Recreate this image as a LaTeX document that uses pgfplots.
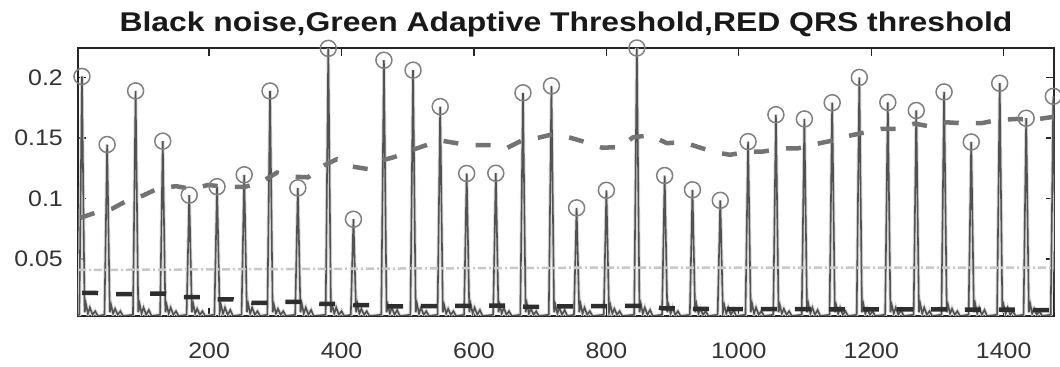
\documentclass[border=0pt]{standalone}
\usepackage{fontspec}
\setmainfont{Liberation Sans}
\usepackage{pgfplots}
\pgfplotsset{compat=1.18}
\usepackage{pgfplotstable}

% ECG-like signal
\pgfplotstableread{
x y
2 0.004
4 0.004
8 0.2008
12 0.006
14 0.013
17 0.005
20 0.010
24 0.004
28 0.007
32 0.003
42 0.004
46 0.1446
50 0.006
52 0.012
55 0.005
58 0.009
62 0.004
66 0.007
70 0.003
85 0.004
89 0.1889
93 0.006
95 0.013
98 0.005
101 0.010
105 0.004
109 0.008
113 0.003
126 0.004
130 0.1474
134 0.006
136 0.012
139 0.005
142 0.010
146 0.004
150 0.007
154 0.003
166 0.004
170 0.1028
174 0.006
176 0.013
179 0.005
182 0.009
186 0.004
190 0.007
194 0.003
208 0.004
212 0.1098
216 0.006
218 0.012
221 0.005
224 0.010
228 0.004
232 0.008
236 0.003
249 0.004
253 0.1196
257 0.006
259 0.013
262 0.005
265 0.010
269 0.004
273 0.007
277 0.003
288 0.004
292 0.1888
296 0.006
298 0.012
301 0.005
304 0.009
308 0.004
312 0.007
316 0.003
330 0.004
334 0.1088
338 0.006
340 0.013
343 0.005
346 0.010
350 0.004
354 0.008
358 0.003
376 0.004
380 0.2240
384 0.006
386 0.012
389 0.005
392 0.010
396 0.004
400 0.007
404 0.003
414 0.004
418 0.0829
422 0.006
424 0.013
427 0.005
430 0.009
434 0.004
438 0.007
442 0.003
460 0.004
464 0.2142
468 0.006
470 0.012
473 0.005
476 0.010
480 0.004
484 0.008
488 0.003
504 0.004
508 0.2060
512 0.006
514 0.013
517 0.005
520 0.010
524 0.004
528 0.007
532 0.003
545 0.004
549 0.1759
553 0.006
555 0.012
558 0.005
561 0.009
565 0.004
569 0.007
573 0.003
585 0.004
589 0.1207
593 0.006
595 0.013
598 0.005
601 0.010
605 0.004
609 0.008
613 0.003
629 0.004
633 0.1209
637 0.006
639 0.012
642 0.005
645 0.010
649 0.004
653 0.007
657 0.003
670 0.004
674 0.1873
678 0.006
680 0.013
683 0.005
686 0.009
690 0.004
694 0.007
698 0.003
713 0.004
717 0.1930
721 0.006
723 0.012
726 0.005
729 0.010
733 0.004
737 0.008
741 0.003
751 0.004
755 0.0923
759 0.006
761 0.013
764 0.005
767 0.010
771 0.004
775 0.007
779 0.003
796 0.004
800 0.1068
804 0.006
806 0.012
809 0.005
812 0.009
816 0.004
820 0.007
824 0.003
842 0.004
846 0.2243
850 0.006
852 0.013
855 0.005
858 0.010
862 0.004
866 0.008
870 0.003
884 0.004
888 0.1190
892 0.006
894 0.012
897 0.005
900 0.010
904 0.004
908 0.007
912 0.003
926 0.004
930 0.1072
934 0.006
936 0.013
939 0.005
942 0.009
946 0.004
950 0.007
954 0.003
968 0.004
972 0.0985
976 0.006
978 0.012
981 0.005
984 0.010
988 0.004
992 0.008
996 0.003
1010 0.004
1014 0.1470
1018 0.006
1020 0.013
1023 0.005
1026 0.010
1030 0.004
1034 0.007
1038 0.003
1052 0.004
1056 0.1692
1060 0.006
1062 0.012
1065 0.005
1068 0.009
1072 0.004
1076 0.007
1080 0.003
1095 0.004
1099 0.1657
1103 0.006
1105 0.013
1108 0.005
1111 0.010
1115 0.004
1119 0.008
1123 0.003
1137 0.004
1141 0.1791
1145 0.006
1147 0.012
1150 0.005
1153 0.010
1157 0.004
1161 0.007
1165 0.003
1178 0.004
1182 0.2000
1186 0.006
1188 0.013
1191 0.005
1194 0.009
1198 0.004
1202 0.007
1206 0.003
1221 0.004
1225 0.1794
1229 0.006
1231 0.012
1234 0.005
1237 0.010
1241 0.004
1245 0.008
1249 0.003
1264 0.004
1268 0.1727
1272 0.006
1274 0.013
1277 0.005
1280 0.010
1284 0.004
1288 0.007
1292 0.003
1306 0.004
1310 0.1880
1314 0.006
1316 0.012
1319 0.005
1322 0.009
1326 0.004
1330 0.007
1334 0.003
1347 0.004
1351 0.1467
1355 0.006
1357 0.013
1360 0.005
1363 0.010
1367 0.004
1371 0.008
1375 0.003
1390 0.004
1394 0.1952
1398 0.006
1400 0.012
1403 0.005
1406 0.010
1410 0.004
1414 0.007
1418 0.003
1430 0.004
1434 0.1663
1438 0.006
1440 0.013
1443 0.005
1446 0.009
1450 0.004
1454 0.007
1458 0.003
1471 0.004
1475 0.1844
1479 0.006
}\sig

% detected R peaks
\pgfplotstableread{
x y
8 0.2008
46 0.1446
89 0.1889
130 0.1474
170 0.1028
212 0.1098
253 0.1196
292 0.1888
334 0.1088
380 0.2240
418 0.0829
464 0.2142
508 0.2060
549 0.1759
589 0.1207
633 0.1209
674 0.1873
717 0.1930
755 0.0923
800 0.1068
846 0.2243
888 0.1190
930 0.1072
972 0.0985
1014 0.1470
1056 0.1692
1099 0.1657
1141 0.1791
1182 0.2000
1225 0.1794
1268 0.1727
1310 0.1880
1351 0.1467
1394 0.1952
1434 0.1663
1475 0.1844
}\peaks

% QRS threshold
\pgfplotstableread{
x y
5.3 0.0840
28 0.0882
53.6 0.0916
76.2 0.0983
100.4 0.1025
123 0.1084
150.2 0.1102
174.3 0.1078
198.5 0.1112
224 0.1096
254.3 0.1097
276.9 0.1131
302.6 0.1214
322.2 0.1182
349.4 0.1175
367.5 0.1258
393.1 0.1325
412.8 0.1267
440 0.1243
458 0.1310
480.6 0.1344
503.4 0.1395
526 0.1437
548.7 0.1480
575.8 0.1455
598.5 0.1440
627.2 0.1440
649.8 0.1417
674 0.1484
696.6 0.1501
722.3 0.1535
744.9 0.1503
770.6 0.1462
793.2 0.1421
820.4 0.1422
840 0.1505
865.7 0.1523
891.3 0.1457
915.5 0.1466
938.1 0.1426
962.3 0.1385
986.4 0.1361
1013.6 0.1387
1036.2 0.1388
1064.9 0.1413
1089 0.1414
1114.7 0.1448
1137.4 0.1474
1164.5 0.1516
1187.2 0.1542
1215.8 0.1576
1238.5 0.1576
1265.7 0.1619
1288.3 0.1595
1314 0.1629
1341.1 0.1621
1366.8 0.1622
1389.4 0.1648
1419.6 0.1657
1443.8 0.1650
1476 0.1675
}\qrs

% noise threshold
\pgfplotstableread{
x y
8.3 0.0221
27.9 0.0221
55 0.0210
80.8 0.0210
108 0.0214
133.6 0.0214
160.8 0.0185
186.4 0.0185
212 0.0168
236.2 0.0168
265 0.0139
287.5 0.0139
314.7 0.0146
340.4 0.0146
367.5 0.0130
393 0.0130
420.4 0.0119
444.5 0.0119
470 0.0110
497.4 0.0110
521.5 0.0111
548.7 0.0111
575.8 0.0113
604.5 0.0113
627.2 0.0115
651.3 0.0115
677 0.0106
702.6 0.0106
726.8 0.0110
755.5 0.0110
782.6 0.0112
808.3 0.0112
834 0.0114
861.1 0.0114
885.3 0.0093
912.5 0.0093
936.6 0.0088
963.8 0.0088
983.4 0.0086
1012 0.0086
1039 0.0086
1066 0.0086
1087.5 0.0086
1114.7 0.0086
1145 0.0085
1170.6 0.0085
1194.7 0.0085
1223.4 0.0085
1246 0.0084
1273.2 0.0084
1295.8 0.0084
1323 0.0084
1345.7 0.0083
1371.3 0.0083
1397 0.0082
1424 0.0082
1450 0.0078
1476 0.0078
}\noise

% adaptive threshold
\pgfplotstableread{
x y
2 0.0410
400 0.0420
800 0.0430
1476 0.0430
}\adapt

\newcommand\tl[1]{\scalebox{1}[0.9]{#1}}

\begin{document}
\begin{tikzpicture}
\path[use as bounding box] (-78bp,-51bp) rectangle (982bp,316bp);
\begin{axis}[
  at={(0,0)}, anchor=south west,
  scale only axis, width=976bp, height=268bp,
  xmin=2, xmax=1476, ymin=0.003, ymax=0.2243,
  xtick={200,400,600,800,1000,1200,1400},
  xticklabels={\tl{200},\tl{400},\tl{600},\tl{800},\tl{1000},\tl{1200},\tl{1400}},
  ytick={0.05,0.1,0.15,0.2},
  yticklabels={\tl{0.05},\tl{0.1},\tl{0.15},\tl{0.2}},
  tick align=inside, major tick length=8bp,
  axis line style={black!85, line width=1.3bp},
  every tick/.style={black!85, line width=1.3bp},
  ticklabel style={font=\fontsize{25}{27}\selectfont, text=black!80, inner sep=0pt},
  xticklabel style={anchor=north, yshift=-27bp},
  yticklabel style={anchor=east, xshift=-15bp},
  title={\scalebox{1}[0.85]{\bfseries Black noise,Green Adaptive Threshold,RED QRS threshold}},
  title style={font=\fontsize{32}{34}\selectfont, at={(0.5,1)}, anchor=base, yshift=11bp, inner sep=0pt, text=black!90},
]
\addplot[black!15, line width=3.5bp] table {\sig};
\addplot[black!68, line width=1.6bp] table {\sig};
\addplot[black!22, line width=2.5bp, dash pattern=on 8bp off 3bp on 2bp off 3bp] table {\adapt};
\addplot[only marks, mark=o, mark size=8bp, mark options={black!50, line width=1.5bp}] table {\peaks};
\addplot[black!82, line width=4.5bp, dash pattern=on 16bp off 18bp] table {\noise};
\addplot[black!55, line width=4.5bp, dash pattern=on 15bp off 17.3bp] table {\qrs};
\end{axis}
\end{tikzpicture}
\end{document}
